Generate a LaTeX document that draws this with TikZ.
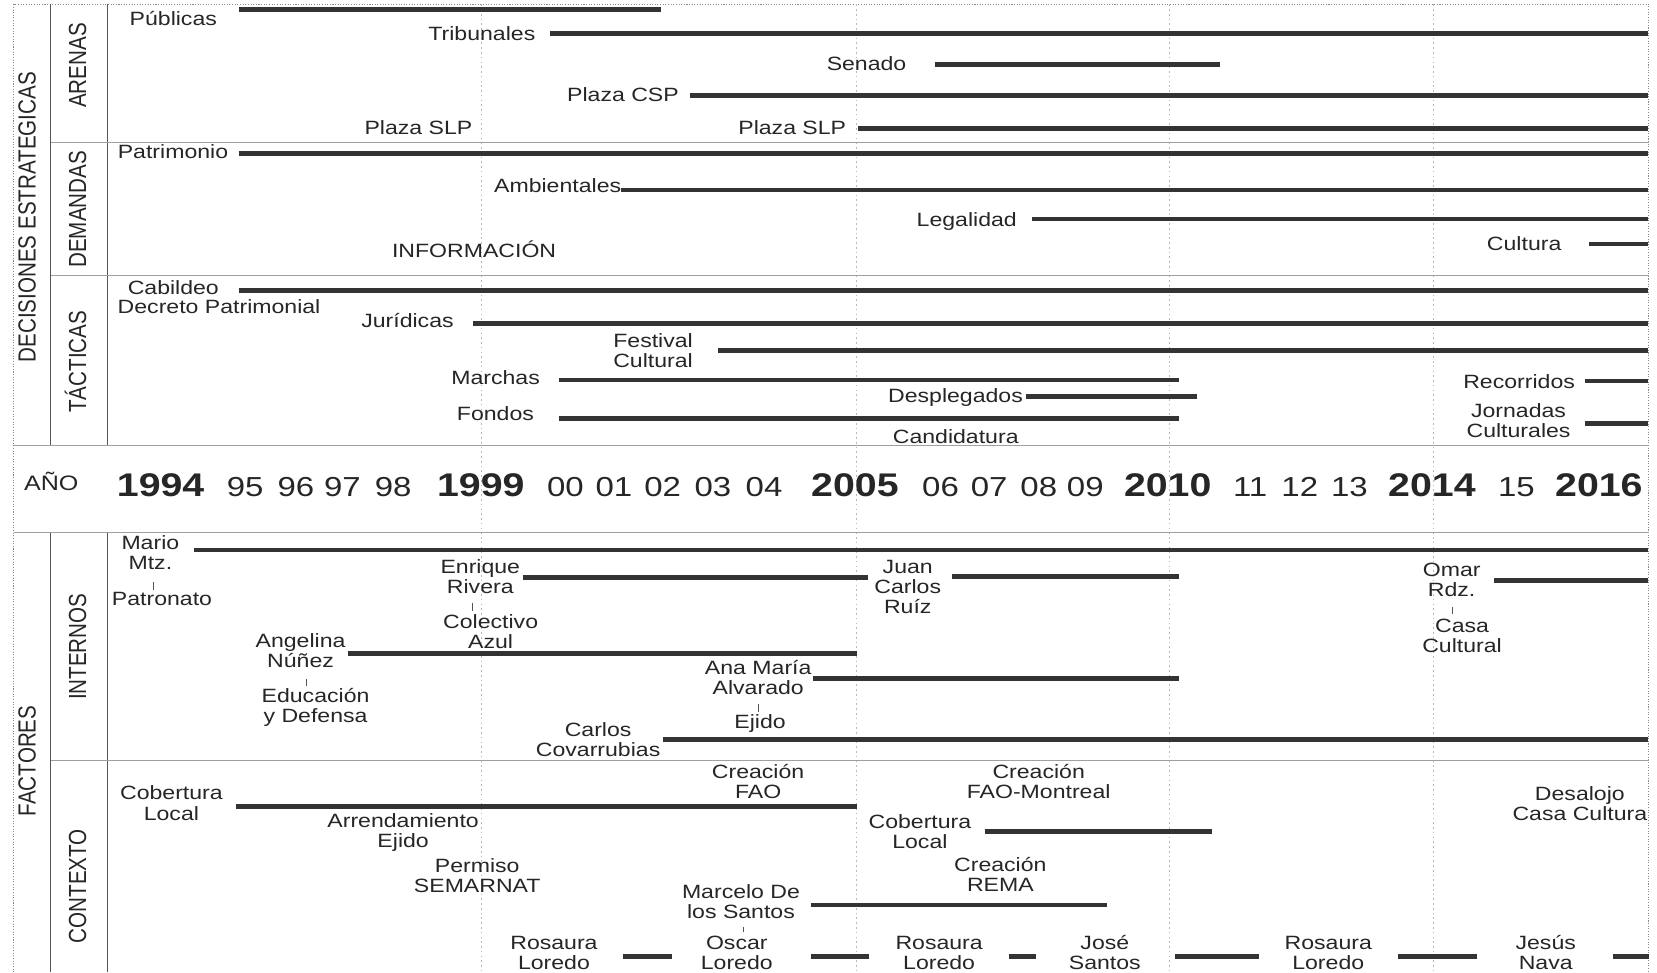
\documentclass[tikz,border=0pt]{standalone}
\usepackage{fontspec}
\setmainfont{Liberation Sans}
\definecolor{txt}{HTML}{262626}
\definecolor{barc}{HTML}{333333}
\definecolor{sepc}{HTML}{A0A0A0}
\definecolor{colc}{HTML}{555555}
\definecolor{dotc}{HTML}{B8B8B8}
\definecolor{brdc}{HTML}{8A8A8A}
\newcommand\ml[1]{\begin{tabular}[t]{@{}c@{}}#1\end{tabular}}
\newcommand\lblfont{\fontsize{18.2}{19}\selectfont}
\begin{document}
\begin{tikzpicture}[x=0.833333pt, y=-1pt, xscale=1.2, transform shape,
  lbl/.style={anchor=base, inner sep=0pt, outer sep=0pt, text=txt, font=\lblfont},
  hdr/.style={anchor=base, inner sep=0pt, outer sep=0pt, text=txt, font=\fontsize{19.5}{22}\selectfont, rotate=90},
  yr/.style={anchor=base, inner sep=0pt, outer sep=0pt, text=txt, font=\fontsize{26}{28}\selectfont},
  yrb/.style={anchor=base, inner sep=0pt, outer sep=0pt, text=txt, font=\fontsize{31}{33}\selectfont\bfseries},
  tl/.style={line width=4.2pt, draw=barc},
  sepl/.style={line width=1.4pt, draw=sepc},
  coll/.style={line width=1.1pt, draw=colc},
  gridl/.style={line width=0.8pt, draw=dotc, dash pattern=on 1.5pt off 3pt},
  brd/.style={line width=0.8pt, draw=brdc, dash pattern=on 1pt off 1.5pt},
  tk/.style={line width=0.8pt, draw=colc}]
\useasboundingbox (0,0) rectangle (1568,920);
\fill[white] (0,0) rectangle (1568,920);
% outer dotted border
\draw[brd] (12.9,920) -- (12.9,4.2) -- (1560.3,4.2) -- (1560.3,920);
% year grid lines
\foreach \gx in {456,810.7,1106.5,1356}{\draw[gridl] (\gx,4.2) -- (\gx,920);}
% column lines
\draw[coll] (48,4.2) -- (48,421.8);
\draw[coll] (101.4,4.2) -- (101.4,421.8);
\draw[coll] (48,504) -- (48,920);
\draw[coll] (101.4,504) -- (101.4,920);
% separators
\draw[sepl] (48,134.7) -- (1560.3,134.7);
\draw[sepl] (48,260.6) -- (1560.3,260.6);
\draw[sepl] (12.9,421.8) -- (1560.3,421.8);
\draw[sepl] (12.9,504) -- (1560.3,504);
\draw[sepl] (48,719.4) -- (1560.3,719.4);
% headers
\node[hdr] (hdec) at (33.6,205.5) {DECISIONES ESTRATEGICAS};
\node[hdr] (hare) at (81.5,62) {ARENAS};
\node[hdr] (hdem) at (81.5,198) {DEMANDAS};
\node[hdr] (htac) at (81.5,342.4) {TÁCTICAS};
\node[hdr] (hfac) at (33.6,720) {FACTORES};
\node[hdr] (hint) at (81.5,612) {INTERNOS};
\node[hdr] (hcon) at (81.5,838.5) {CONTEXTO};
\node[anchor=base, inner sep=0pt, text=txt, font=\fontsize{19.8}{22}\selectfont] (hano) at (48.5,464.4) {AÑO};
% years
\node[yrb] (y94) at (152,470) {1994};
\node[yr] (y95) at (232,470) {95};
\node[yr] (y96) at (280,470) {96};
\node[yr] (y97) at (324,470) {97};
\node[yr] (y98) at (372,470) {98};
\node[yrb] (y99) at (455,470) {1999};
\node[yr] (y00) at (535,470) {00};
\node[yr] (y01) at (581,470) {01};
\node[yr] (y02) at (627,470) {02};
\node[yr] (y03) at (674.6,470) {03};
\node[yr] (y04) at (723,470) {04};
\node[yrb] (y05) at (809,470) {2005};
\node[yr] (y06) at (890,470) {06};
\node[yr] (y07) at (936,470) {07};
\node[yr] (y08) at (983,470) {08};
\node[yr] (y09) at (1027,470) {09};
\node[yrb] (y10) at (1105,470) {2010};
\node[yr] (y11) at (1183,470) {11};
\node[yr] (y12) at (1230,470) {12};
\node[yr] (y13) at (1277,470) {13};
\node[yrb] (y14) at (1355,470) {2014};
\node[yr] (y15) at (1435,470) {15};
\node[yrb] (y16) at (1513,470) {2016};
% ARENAS
\node[lbl] (publicas) at (164,24.6) {Públicas};
\draw[tl] (225.8,8.8) -- (625.4,8.8);
\node[lbl] (tribunales) at (456,37.9) {Tribunales};
\draw[tl] (520.4,31.5) -- (1559.6,31.5);
\node[lbl] (senado) at (820,66.9) {Senado};
\draw[tl] (884.4,60.9) -- (1154.6,60.9);
\node[lbl] (plazacsp) at (589.5,96.2) {Plaza CSP};
\draw[tl] (652.9,90.5) -- (1559.6,90.5);
\node[lbl] (plazaslpa) at (396,127.7) {Plaza SLP};
\node[lbl] (plazaslpb) at (749.7,127.7) {Plaza SLP};
\draw[tl] (811.8,121.4) -- (1559.6,121.4);
% DEMANDAS
\node[lbl] (patrimonio) at (163.7,149.8) {Patrimonio};
\draw[tl] (226.4,145.1) -- (1559.6,145.1);
\node[lbl] (ambientales) at (527.7,182.3) {Ambientales};
\draw[tl] (588,179.8) -- (1559.6,179.8);
\node[lbl] (legalidad) at (914.8,213.9) {Legalidad};
\draw[tl] (976.6,207.5) -- (1559.6,207.5);
\node[lbl] (informacion) at (448.6,243.5) {INFORMACIÓN};
\node[lbl] (cultura) at (1442.3,237.2) {Cultura};
\draw[tl] (1504.1,230.9) -- (1559.6,230.9);
% TACTICAS
\node[lbl] (cabildeo) at (164,279.1) {Cabildeo};
\draw[tl] (225.8,275) -- (1559.6,275);
\node[lbl] (decreto) at (207.3,296.5) {Decreto Patrimonial};
\node[lbl] (juridicas) at (385.6,309.7) {Jurídicas};
\draw[tl] (447.8,306) -- (1559.6,306);
\node[lbl] (festival) at (618,328.7) {\ml{Festival\\Cultural}};
\draw[tl] (679.3,331.8) -- (1559.6,331.8);
\node[lbl] (marchas) at (469,364.3) {Marchas};
\draw[tl] (528.6,359.6) -- (1115.5,359.6);
\node[lbl] (desplegados) at (904.2,381) {Desplegados};
\draw[tl] (970.6,375.4) -- (1132.7,375.4);
\node[lbl] (fondos) at (468.8,398) {Fondos};
\draw[tl] (528.6,395.9) -- (1115.5,395.9);
\node[lbl] (candidatura) at (904.4,419.3) {Candidatura};
\node[lbl] (recorridos) at (1437.5,367.5) {Recorridos};
\draw[tl] (1499.7,360.5) -- (1559.6,360.5);
\node[lbl] (jornadas) at (1437,395.2) {\ml{Jornadas\\Culturales}};
\draw[tl] (1499.7,400.6) -- (1559.6,400.6);
% INTERNOS
\node[lbl] (mario) at (142.3,519.8) {\ml{Mario\\Mtz.}};
\draw[tl] (183.5,520.4) -- (1559.6,520.4);
\node[lbl] (patronato) at (153.3,572.5) {Patronato};
\coordinate (tka1) at (144.7,550.4); \coordinate (tka2) at (144.7,558.3);
\draw[tk] (tka1) -- (tka2);
\node[lbl] (enrique) at (454.5,542.5) {\ml{Enrique\\Rivera}};
\draw[tl] (495.1,546.3) -- (821.2,546.3);
\node[lbl] (colectivo) at (464.3,594.6) {\ml{Colectivo\\Azul}};
\coordinate (tkb1) at (446.8,570.9); \coordinate (tkb2) at (446.8,577.9);
\draw[tk] (tkb1) -- (tkb2);
\node[lbl] (angelina) at (284.4,612.9) {\ml{Angelina\\Núñez}};
\draw[tl] (329.5,618.2) -- (810.7,618.2);
\node[lbl] (educacion) at (298.6,664.9) {\ml{Educación\\y Defensa}};
\coordinate (tkc1) at (290,642.8); \coordinate (tkc2) at (290,649.2);
\draw[tk] (tkc1) -- (tkc2);
\node[lbl] (juan) at (859,542.5) {\ml{Juan\\Carlos\\Ruíz}};
\draw[tl] (900.6,545.7) -- (1115.5,545.7);
\node[lbl] (anamaria) at (717.5,637.8) {\ml{Ana María\\Alvarado}};
\draw[tl] (769.5,641.9) -- (1115.5,641.9);
\node[lbl] (ejidoi) at (719.3,689.2) {Ejido};
\coordinate (tkd1) at (717.8,666.5); \coordinate (tkd2) at (717.8,673.4);
\draw[tk] (tkd1) -- (tkd2);
\node[lbl] (carlos) at (566,697.1) {\ml{Carlos\\Covarrubias}};
\draw[tl] (627.6,699.6) -- (1559.6,699.6);
\node[lbl] (omar) at (1373.7,545.7) {\ml{Omar\\Rdz.}};
\draw[tl] (1414,549.5) -- (1559.6,549.5);
\node[lbl] (casacultural) at (1383.5,598.3) {\ml{Casa\\Cultural}};
\coordinate (tke1) at (1374.3,574.7); \coordinate (tke2) at (1374.3,581);
\draw[tk] (tke1) -- (tke2);
% CONTEXTO
\node[lbl] (cobla) at (162.2,757) {\ml{Cobertura\\Local}};
\draw[tl] (223.7,763.3) -- (810.7,763.3);
\node[lbl] (arrend) at (381.5,782.9) {\ml{Arrendamiento\\Ejido}};
\node[lbl] (permiso) at (451.6,825.8) {\ml{Permiso\\SEMARNAT}};
\node[lbl] (creafao) at (717.4,736.5) {\ml{Creación\\FAO}};
\node[lbl] (creamont) at (982.9,736.5) {\ml{Creación\\FAO-Montreal}};
\node[lbl] (coblb) at (870.5,783.8) {\ml{Cobertura\\Local}};
\draw[tl] (931.7,787) -- (1146.8,787);
\node[lbl] (crearema) at (946.6,824.8) {\ml{Creación\\REMA}};
\node[lbl] (marcelo) at (701.2,850) {\ml{Marcelo De\\los Santos}};
\draw[tl] (767.8,856.4) -- (1047.6,856.4);
\node[lbl] (oscar) at (697.2,898.3) {\ml{Oscar\\Loredo}};
\coordinate (tkf1) at (703,876.9); \coordinate (tkf2) at (703,881.6);
\draw[tk] (tkf1) -- (tkf2);
\node[lbl] (rosa) at (524.2,898.3) {\ml{Rosaura\\Loredo}};
\draw[tl] (589.4,905.3) -- (636,905.3);
\draw[tl] (767.8,905.3) -- (821.9,905.3);
\node[lbl] (rosb) at (888.7,898.3) {\ml{Rosaura\\Loredo}};
\draw[tl] (954.4,905.3) -- (980,905.3);
\node[lbl] (jose) at (1045.5,898.3) {\ml{José\\Santos}};
\draw[tl] (1112.1,905.3) -- (1191.4,905.3);
\node[lbl] (rosc) at (1256.9,898.3) {\ml{Rosaura\\Loredo}};
\draw[tl] (1322.6,905.3) -- (1397.2,905.3);
\node[lbl] (jesus) at (1462.7,898.3) {\ml{Jesús\\Nava}};
\draw[tl] (1526.6,905.3) -- (1560.3,905.3);
\node[lbl] (desalojo) at (1495,757.6) {\ml{Desalojo\\Casa Cultura}};
\end{tikzpicture}
\end{document}
